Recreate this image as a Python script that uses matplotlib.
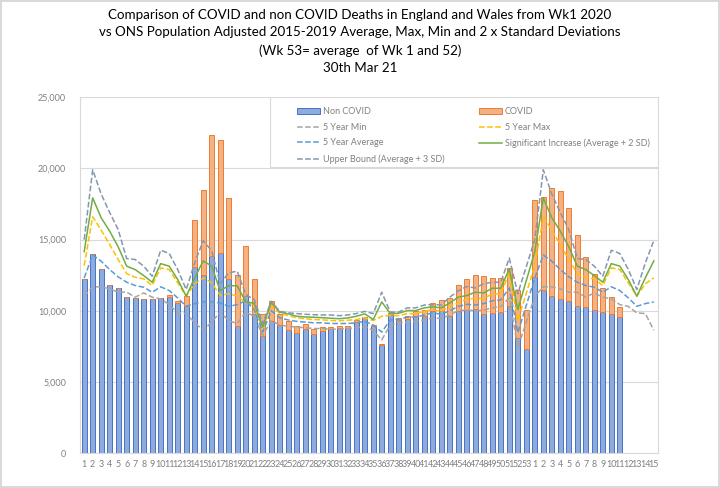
import numpy as np
import matplotlib.pyplot as plt
from matplotlib.patches import Rectangle

# week labels: 2020 wk1-53 then 2021 wk1-15
weeks = [str(w) for w in range(1, 54)] + [str(w) for w in range(1, 16)]

# registered deaths (bars), 2020 wk1-53 + 2021 wk1-11
non_covid = [12240, 14020, 12960, 11840, 11630, 10990, 10900, 10830, 10830, 10900,
             10990, 10570, 10320, 13050, 12490, 13830, 14090, 12210, 8900, 11020,
             9800, 8200, 9300, 8980, 8630, 8440, 8680, 8350, 8580, 8700,
             8800, 8800, 9200, 9480, 8950, 7620, 9720, 9380, 9450, 9660,
             9600, 9990, 9950, 9610, 9990, 10060, 10130, 9780, 9850, 9920,
             10350, 8100, 7300,
             12380, 11440, 11065, 10830, 10665, 10310, 10270, 10080, 9890, 9750, 9570]
covid = [0, 0, 0, 0, 0, 0, 0, 0, 0, 0,
         110, 100, 700, 3340, 6010, 8520, 7910, 5740, 3600, 3530,
         2450, 1580, 1410, 820, 680, 520, 420, 330, 260, 180,
         130, 130, 120, 110, 80, 70, 90, 130, 170, 310,
         420, 560, 790, 1270, 1830, 2180, 2390, 2640, 2450, 2380,
         2680, 3390, 2750,
         5365, 6585, 7570, 7595, 6540, 5020, 3515, 2530, 1715, 1225, 720]

# 2015-2019 baselines, 2020 wk1-53 then 2021 wk1-15
five_min = [11000, 11680, 11680, 11540, 11300, 11300, 10950, 11250, 10950, 10830,
            10430, 9850, 9800, 9150, 8630, 9200, 9900, 9300, 9100, 9900,
            9600, 8250, 9300, 9000, 8900, 8850, 8800, 8750, 8750, 8700,
            8700, 8750, 8800, 8900, 8600, 7950, 9000, 9100, 9200, 9250,
            9350, 9500, 9450, 9700, 10000, 10050, 10000, 10050, 10200, 10300,
            10900, 7400, 9200,
            11000, 11680, 11680, 11540, 11300, 11300, 10950, 11250, 10950, 10830,
            10430, 10300, 9850, 9800, 8630]
five_max = [13170, 16600, 15660, 14650, 13600, 12610, 12350, 12240, 11770, 13010,
            12890, 11960, 11020, 11890, 12310, 11960, 11065, 11200, 11020, 10570,
            10390, 8750, 10380, 9800, 9660, 9500, 9430, 9380, 9360, 9310,
            9290, 9330, 9380, 9500, 9310, 9610, 9660, 9650, 9800, 9780,
            9960, 10080, 9960, 10310, 10550, 10830, 10850, 10870, 11180, 11180,
            12700, 9300, 11235,
            13170, 16600, 15660, 14650, 13600, 12610, 12350, 12240, 11770, 13010,
            12890, 11960, 11020, 11890, 12310]
five_avg = [12300, 13920, 13480, 12890, 12380, 12000, 11770, 11650, 11300, 11680,
            11420, 10900, 10310, 10500, 10620, 10620, 10550, 10300, 10430, 10700,
            10080, 8500, 10000, 9500, 9350, 9250, 9200, 9150, 9150, 9100,
            9100, 9100, 9150, 9250, 9000, 8500, 9350, 9400, 9550, 9550,
            9700, 9850, 9750, 10000, 10300, 10450, 10400, 10500, 10700, 10750,
            11600, 8450, 10375,
            12300, 13920, 13480, 12890, 12380, 12000, 11770, 11650, 11300, 11680,
            11420, 10900, 10310, 10500, 10620]
sig_increase = [14150, 17930, 16530, 15590, 14490, 13130, 12890, 12470, 12000, 13310,
                13130, 12190, 11020, 12310, 13500, 13130, 11400, 11760, 11750, 10640,
                10520, 8850, 10580, 9900, 9780, 9610, 9560, 9540, 9510, 9470,
                9440, 9490, 9610, 9780, 9380, 10620, 9800, 9820, 10010, 10010,
                10200, 10270, 10200, 10550, 10950, 11065, 11300, 11250, 11580, 11580,
                12950, 10080, 12115,
                14150, 17930, 16530, 15590, 14490, 13130, 12890, 12470, 12000, 13310,
                13130, 12190, 11020, 12310, 13500]
upper_bound = [15000, 19900, 18200, 16900, 15700, 13660, 13600, 13130, 12420, 14250,
               14020, 12890, 11490, 13360, 14930, 14200, 11900, 12660, 12780, 11140,
               10780, 9100, 10670, 9950, 9850, 9800, 9750, 9720, 9700, 9700,
               9650, 9700, 9800, 9950, 9800, 11300, 9900, 9900, 10200, 10200,
               10400, 10430, 10400, 10950, 11400, 11700, 11600, 11900, 12000, 12000,
               13700, 11200, 13100,
               15000, 19900, 18200, 16900, 15700, 13660, 13600, 13130, 12420, 14250,
               14020, 12890, 11490, 13360, 14930]

x = np.arange(len(weeks))
nb = len(non_covid)

plt.rcParams['font.family'] = ['Lato', 'DejaVu Sans']
fig = plt.figure(figsize=(7.2, 4.88), dpi=100)
fig.patch.set_edgecolor('#d9d9d9')
fig.patch.set_linewidth(1.5)
ax = fig.add_axes([0.111, 0.0717, 0.803, 0.729])

b1 = ax.bar(x[:nb], non_covid, width=0.55, color='#8faadc', edgecolor='#4472c4',
            linewidth=0.7, label='Non COVID', zorder=2)
b2 = ax.bar(x[:nb], covid, width=0.55, bottom=non_covid, color='#f4b183',
            edgecolor='#ed7d31', linewidth=0.7, label='COVID', zorder=2)

l1, = ax.plot(x, five_min, color='#a5a5a5', ls='--', lw=1.1, label='5 Year Min', zorder=3)
l2, = ax.plot(x, five_max, color='#ffc000', ls='--', lw=1.1, label='5 Year Max', zorder=3)
l3, = ax.plot(x, five_avg, color='#5b9bd5', ls='--', lw=1.1, label='5 Year Average', zorder=3)
l4, = ax.plot(x, sig_increase, color='#70ad47', lw=1.1,
              label='Significant Increase (Average + 2 SD)', zorder=3)
l5, = ax.plot(x, upper_bound, color='#8497b0', ls='--', lw=1.1,
              label='Upper Bound (Average + 3 SD)', zorder=3)

ax.set_xlim(-0.5, len(weeks) - 0.5)
ax.set_ylim(0, 25000)
ax.set_yticks(np.arange(0, 25001, 5000))
ax.set_yticklabels([f'{v:,}' for v in range(0, 25001, 5000)])
ax.set_xticks(x)
ax.set_xticklabels(weeks)
ax.tick_params(axis='both', length=0, labelsize=6.5, colors='#808080')
ax.tick_params(axis='y', pad=10)
ax.tick_params(axis='x', pad=5)
ax.grid(axis='y', color='#d9d9d9', lw=0.8, zorder=0)
ax.set_axisbelow(True)
for s in ax.spines.values():
    s.set_color('#d9d9d9')
ax.spines['top'].set_visible(False)

# legend box (drawn separately, Excel leaves extra room on the right)
box = Rectangle((0.329, 0.805), 0.671, 0.195, transform=ax.transAxes,
                facecolor='white', edgecolor='#d9d9d9', lw=0.8, zorder=4)
ax.add_patch(box)

# column-wise order so the legend reads row by row like the original
handles = [b1, l1, l3, l5, b2, l2, l4]
leg = ax.legend(handles, [h.get_label() for h in handles], ncol=2,
                loc='upper left', bbox_to_anchor=(0.375, 0.973), fontsize=6.5,
                frameon=False, handlelength=2.6, handleheight=0.6,
                handletextpad=0.3, columnspacing=3.8,
                labelspacing=0.75, borderpad=0, borderaxespad=0)
leg.set_zorder(5)
for t in leg.get_texts():
    t.set_color('#808080')

fig.text(0.5, 0.982, 'Comparison of COVID and non COVID Deaths in England and Wales from Wk1 2020\n'
         'vs ONS Population Adjusted 2015-2019 Average, Max, Min and 2 x Standard Deviations\n'
         '(Wk 53= average  of Wk 1 and 52)\n30th Mar 21',
         ha='center', va='top', fontsize=9.6, linespacing=1.55, color='#000000')

plt.savefig('out.png', dpi=100)
